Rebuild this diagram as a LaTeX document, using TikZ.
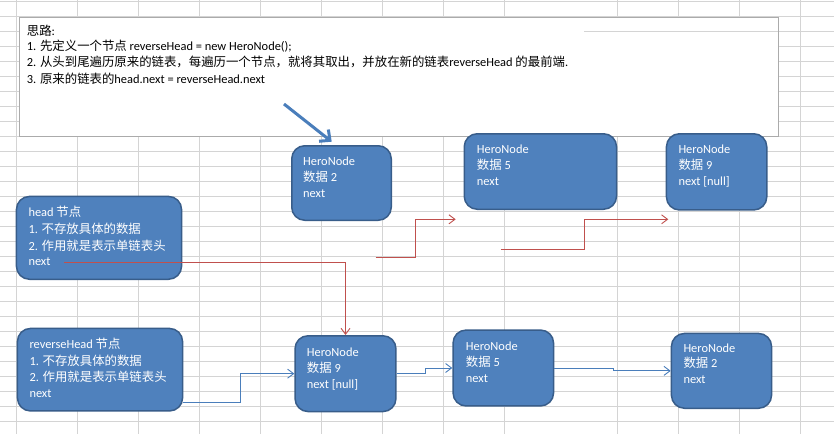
\documentclass[tikz,border=0pt]{standalone}
\usepackage{fontspec}
\setmainfont{Carlito}
\newfontfamily\cjk{Noto Sans CJK SC}
\usetikzlibrary{arrows.meta}
\definecolor{boxfill}{HTML}{4F81BD}
\definecolor{boxborder}{HTML}{385D8A}
\definecolor{redln}{HTML}{C0504D}
\definecolor{blueln}{HTML}{4A7EBB}
\definecolor{gridc}{HTML}{D4D4D4}
\definecolor{notec}{HTML}{ABABAB}
\begin{document}
\begin{tikzpicture}[x=1pt,y=-1pt,
  hbox/.style={draw=boxborder, fill=boxfill, line width=1.5pt, rounded corners=13pt, inner sep=0pt},
  notebox/.style={draw=notec, fill=white, line width=1pt, inner sep=0pt},
  wt/.style={anchor=west, inner sep=0pt, text height=10pt, text depth=2pt, text=white, font=\fontsize{12.4}{16}\selectfont},
  bt/.style={wt, text=black},
  gridln/.style={draw=gridc, line width=0.9pt},
  redarrow/.style={draw=redln, line width=0.9pt, -{Straight Barb[length=6pt,width=9pt]}},
  bluearrow/.style={draw=blueln, line width=0.9pt, -{Straight Barb[length=6pt,width=9pt]}},
  bigarrow/.style={draw=blueln, line width=3pt, -{Straight Barb[length=8pt,width=15pt]}},
]
\useasboundingbox (0,0) rectangle (834,434);
\fill[white] (0,0) rectangle (834,434);
% spreadsheet grid
\foreach \x in {16.7,77.7,138.5,199.5,260.6,321.6,382.6,443.3,504.3,617.5,678.5,739.3,800.5}
  \draw[gridln] (\x,0) -- (\x,434);
\foreach \k in {0,...,28}
  \draw[gridln] (0,{1.7+15*\k}) -- (834,{1.7+15*\k});

% note box
\node[notebox, minimum width=758.4pt, minimum height=119.6pt] (note) at (399,77) {};
\draw[gridln] (584,31.7) -- (778,31.7);
\node[bt] (n0) at (26.7,31.7) {{\cjk 思路}:};
\node[bt] (n1) at (26.7,46.7) {1. {\cjk 先定义一个节点} reverseHead = new HeroNode();};
\node[bt] (n2) at (26.7,62.7) {2. {\cjk 从头到尾遍历原来的链表，每遍历一个节点，就将其取出，并放在新的链表}reverseHead {\cjk 的最前端}.};
\node[bt] (n3) at (26.7,79.3) {3. {\cjk 原来的链表的}head.next = reverseHead.next};

% boxes
\node[hbox, minimum width=99.5pt, minimum height=74.5pt] (h2t) at (341.5,183) {};
\node[hbox, minimum width=165.1pt, minimum height=82.8pt] (head) at (99,237.85) {};
\node[hbox, minimum width=152.3pt, minimum height=75.5pt] (h5t) at (540.4,171.5) {};
\node[hbox, minimum width=100.3pt, minimum height=76.2pt] (h9t) at (716.6,171.85) {};
\node[hbox, minimum width=165.1pt, minimum height=82.5pt] (rev) at (100,369.7) {};
\node[hbox, minimum width=100.9pt, minimum height=75.8pt] (h9b) at (345.5,373.65) {};
\node[hbox, minimum width=100.5pt, minimum height=75.9pt] (h5b) at (503.3,368) {};
\node[hbox, minimum width=100.1pt, minimum height=74.8pt] (h2b) at (721.5,370.85) {};

% box texts
\node[wt] (h2t1) at (303,161) {HeroNode};
\node[wt] (h2t2) at (303,177) {{\cjk 数据} 2};
\node[wt] (h2t3) at (303,193.3) {next};

\node[wt] (head1) at (28.3,212.7) {head {\cjk 节点}};
\node[wt] (head2) at (28.3,229.3) {1. {\cjk 不存放具体的数据}};
\node[wt] (head3) at (28.3,246) {2. {\cjk 作用就是表示单链表头}};
\node[wt] (head4) at (28.3,261) {next};

\node[wt] (h5t1) at (476.7,149) {HeroNode};
\node[wt] (h5t2) at (476.7,165.7) {{\cjk 数据} 5};
\node[wt] (h5t3) at (476.7,181) {next};

\node[wt] (h9t1) at (678.3,149) {HeroNode};
\node[wt] (h9t2) at (678.3,165.7) {{\cjk 数据} 9};
\node[wt] (h9t3) at (678.3,181) {next [null]};

\node[wt] (rev1) at (29.3,344.3) {reverseHead {\cjk 节点}};
\node[wt] (rev2) at (29.3,361.7) {1. {\cjk 不存放具体的数据}};
\node[wt] (rev3) at (29.3,377.7) {2. {\cjk 作用就是表示单链表头}};
\node[wt] (rev4) at (29.3,393.3) {next};

\node[wt] (h9b1) at (306.7,352.3) {HeroNode};
\node[wt] (h9b2) at (306.7,368.3) {{\cjk 数据} 9};
\node[wt] (h9b3) at (306.7,384.3) {next [null]};

\node[wt] (h5b1) at (465.7,346) {HeroNode};
\node[wt] (h5b2) at (465.7,362.3) {{\cjk 数据} 5};
\node[wt] (h5b3) at (465.7,378.3) {next};

\node[wt] (h2b1) at (683.3,348.3) {HeroNode};
\node[wt] (h2b2) at (683.3,363.3) {{\cjk 数据} 2};
\node[wt] (h2b3) at (683.3,379.3) {next};

% connectors
\coordinate (bas) at (284,104);
\coordinate (bae) at (331.7,141.7);
\draw[bigarrow] (bas) -- (bae);

\coordinate (r1s) at (64,262.3);
\draw[redarrow] (r1s) -| (h9b.north);

\coordinate (r2s) at (375.7,257.7);
\coordinate (r2e) at (455.7,219.3);
\draw[redarrow] (r2s) -- ++(40,0) |- (r2e);

\coordinate (r3s) at (500.7,249);
\coordinate (r3e) at (668.3,219.3);
\draw[redarrow] (r3s) -- ++(83.6,0) |- (r3e);

\coordinate (b4s) at (183.3,402.3);
\draw[bluearrow] (b4s) -- ++(56.7,0) |- (h9b.west);
\draw[bluearrow] (h9b.east) -- ++(28.3,0) |- (h5b.west);
\draw[bluearrow] (h5b.east) -- ++(59,0) |- (h2b.west);
\end{tikzpicture}
\end{document}
